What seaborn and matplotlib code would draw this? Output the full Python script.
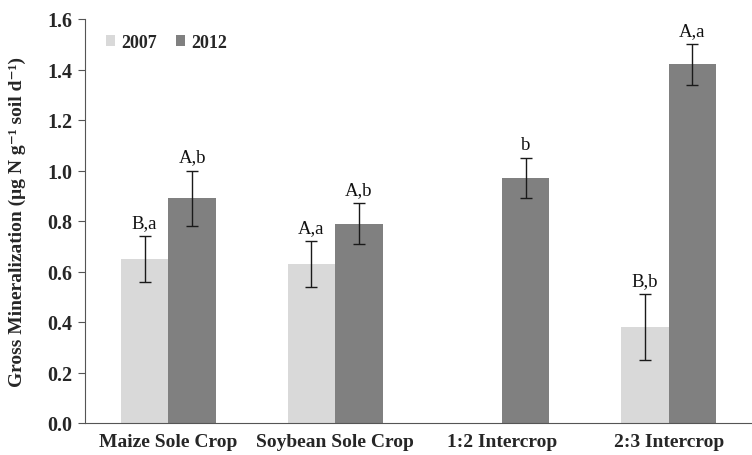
import numpy as np
import pandas as pd
import matplotlib
matplotlib.use("Agg")
import matplotlib.pyplot as plt
import seaborn as sns

categories = ["Maize Sole Crop", "Soybean Sole Crop", "1:2 Intercrop", "2:3 Intercrop"]
years = ["2007", "2012"]
values_2007 = [0.65, 0.63, np.nan, 0.38]
values_2012 = [0.89, 0.79, 0.97, 1.42]
err_2007 = [0.09, 0.09, np.nan, 0.13]
err_2012 = [0.11, 0.08, 0.08, 0.08]
labels_2007 = ["B,a", "A,a", "", "B,b"]
labels_2012 = ["A,b", "A,b", "b", "A,a"]
yticks = [0.0, 0.2, 0.4, 0.6, 0.8, 1.0, 1.2, 1.4, 1.6]

sns.set_theme(style="white")
plt.rcParams["font.family"] = ["Liberation Serif", "DejaVu Serif"]

df = pd.DataFrame({
    "cat": categories * 2,
    "year": ["2007"] * 4 + ["2012"] * 4,
    "val": values_2007 + values_2012,
    "err": err_2007 + err_2012,
    "lab": labels_2007 + labels_2012,
})

fig = plt.figure(figsize=(7.52, 4.56), dpi=100)
ax = fig.add_axes([85 / 752, 1 - 424 / 456, 1 - 85 / 752, (424 - 20) / 456])

total_w = 0.57
sns.barplot(data=df, x="cat", y="val", hue="year", hue_order=years, order=categories,
            palette={"2007": "#D9D9D9", "2012": "#808080"}, width=total_w,
            errorbar=None, saturation=1, ax=ax, linewidth=0)

bw = total_w / len(years)
for j, yr in enumerate(years):
    sub = df[df["year"] == yr]
    for i, cat in enumerate(categories):
        r = sub[sub["cat"] == cat].iloc[0]
        if np.isnan(r["val"]):
            continue
        x = i - total_w / 2 + bw * (j + 0.5)
        ax.errorbar(x, r["val"], yerr=r["err"], fmt="none", ecolor="#1a1a1a",
                    elinewidth=1.0, capsize=4, capthick=1.0)
        ax.text(x, r["val"] + r["err"] + 0.02, r["lab"], ha="center", va="bottom",
                fontsize=13.5, color="#111111")

ax.set_ylim(0, 1.6)
ax.set_xlim(-0.5, -0.5 + (752 - 85) / 169)
ax.set_yticks(yticks)
ax.set_yticklabels([f"{v:.1f}" for v in yticks], fontweight="bold", fontsize=14.5)
ax.set_xticks(range(len(categories)))
ax.set_xticklabels(categories, fontweight="bold", fontsize=14)
ax.set_xticks([0.5, 1.5, 2.5, 3.5], minor=True)
ax.tick_params(axis="x", which="major", length=0, pad=7)
ax.tick_params(axis="x", which="minor", length=5, width=0.8, color="#555555", direction="out")
ax.tick_params(axis="y", which="major", length=5, width=0.8, color="#555555", direction="out", left=True, pad=4)
ax.set_xlabel("")
ax.set_ylabel("Gross Mineralization (μg N g⁻¹ soil d⁻¹)", fontweight="bold", fontsize=14)
ax.yaxis.set_label_coords(-0.088, 0.5)
for s in ["top", "right"]:
    ax.spines[s].set_visible(False)
for s in ["left", "bottom"]:
    ax.spines[s].set_color("#555555")
    ax.spines[s].set_linewidth(0.8)

leg = ax.legend(loc="upper left", bbox_to_anchor=((106 - 85) / 667, (424 - 35) / 404), ncol=2,
                frameon=False, borderpad=0, borderaxespad=0,
                handlelength=0.5, handleheight=0.5, columnspacing=1.05, handletextpad=0.35,
                prop={"weight": "bold", "size": 13})
leg.set_title(None)

fig.savefig("out.png", dpi=100)
